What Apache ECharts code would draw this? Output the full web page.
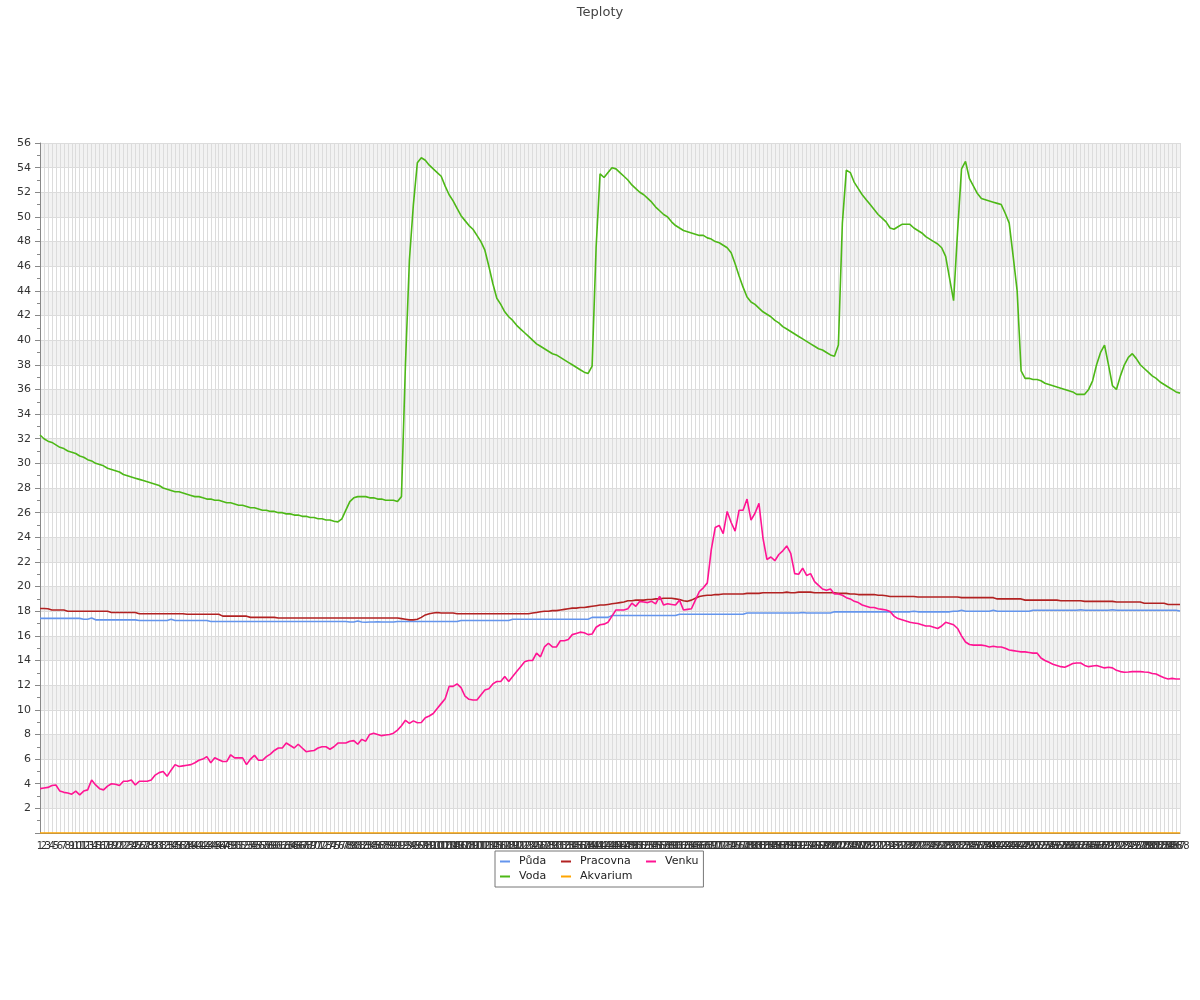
<!DOCTYPE html>
<html><head><meta charset="utf-8">
<script src="https://cdn.jsdelivr.net/npm/echarts/dist/echarts.min.js"></script>
<style>html,body{margin:0;padding:0;background:#fff}#c{width:1200px;height:1000px}</style>
</head><body><div id="c"></div>
<script>
const categories = [
1,2,3,4,5,6,7,8,9,10,11,12,13,14,15,16,17,18,19,20,
21,22,23,24,25,26,27,28,29,30,31,32,33,34,35,36,37,38,39,40,
41,42,43,44,45,46,47,48,49,50,51,52,53,54,55,56,57,58,59,60,
61,62,63,64,65,66,67,68,69,70,71,72,73,74,75,76,77,78,79,80,
81,82,83,84,85,86,87,88,89,90,91,92,93,94,95,96,97,98,99,100,
101,102,103,104,105,106,107,108,109,110,111,112,113,114,115,116,117,118,119,120,
121,122,123,124,125,126,127,128,129,130,131,132,133,134,135,136,137,138,139,140,
141,142,143,144,145,146,147,148,149,150,151,152,153,154,155,156,157,158,159,160,
161,162,163,164,165,166,167,168,169,170,171,172,173,174,175,176,177,178,179,180,
181,182,183,184,185,186,187,188,189,190,191,192,193,194,195,196,197,198,199,200,
201,202,203,204,205,206,207,208,209,210,211,212,213,214,215,216,217,218,219,220,
221,222,223,224,225,226,227,228,229,230,231,232,233,234,235,236,237,238,239,240,
241,242,243,244,245,246,247,248,249,250,251,252,253,254,255,256,257,258,259,260,
261,262,263,264,265,266,267,268,269,270,271,272,273,274,275,276,277,278,279,280,
281,282,283,284,285,286,287,288
].map(String);

const puda = [
17.42,17.42,17.42,17.42,17.42,17.42,17.42,17.42,17.42,17.42,
17.42,17.35,17.35,17.45,17.3,17.3,17.3,17.3,17.3,17.3,
17.3,17.3,17.3,17.3,17.3,17.25,17.25,17.25,17.25,17.25,
17.25,17.25,17.25,17.35,17.25,17.25,17.25,17.25,17.25,17.25,
17.25,17.25,17.25,17.17,17.17,17.17,17.17,17.17,17.17,17.17,
17.17,17.17,17.17,17.17,17.17,17.17,17.17,17.17,17.17,17.17,
17.17,17.17,17.17,17.17,17.17,17.17,17.17,17.17,17.17,17.17,
17.17,17.17,17.17,17.17,17.17,17.17,17.17,17.17,17.12,17.12,
17.2,17.12,17.1,17.12,17.12,17.15,17.12,17.12,17.12,17.12,
17.17,17.17,17.17,17.17,17.17,17.17,17.17,17.17,17.17,17.17,
17.17,17.17,17.17,17.17,17.17,17.17,17.25,17.25,17.25,17.25,
17.25,17.25,17.25,17.25,17.25,17.25,17.25,17.25,17.25,17.35,
17.35,17.35,17.35,17.35,17.35,17.35,17.35,17.35,17.35,17.35,
17.35,17.35,17.35,17.35,17.35,17.35,17.35,17.35,17.35,17.5,
17.5,17.5,17.5,17.5,17.65,17.65,17.65,17.65,17.65,17.65,
17.65,17.65,17.65,17.65,17.65,17.65,17.65,17.65,17.65,17.65,
17.65,17.75,17.75,17.75,17.75,17.75,17.75,17.75,17.75,17.75,
17.75,17.75,17.75,17.75,17.75,17.75,17.75,17.75,17.85,17.85,
17.85,17.85,17.85,17.85,17.85,17.85,17.85,17.85,17.85,17.85,
17.85,17.85,17.9,17.85,17.85,17.85,17.85,17.85,17.85,17.85,
17.95,17.95,17.95,17.95,17.95,17.95,17.95,17.95,17.95,17.95,
17.95,17.95,17.95,17.95,17.95,17.95,17.95,17.95,17.95,17.95,
18.0,17.95,17.95,17.95,17.95,17.95,17.95,17.95,17.95,17.95,
18.0,18.0,18.08,18.0,18.0,18.0,18.0,18.0,18.0,18.0,
18.08,18.0,18.0,18.0,18.0,18.0,18.0,18.0,18.0,18.0,
18.08,18.08,18.08,18.08,18.08,18.08,18.08,18.08,18.08,18.08,
18.08,18.08,18.12,18.08,18.08,18.08,18.08,18.08,18.08,18.08,
18.12,18.08,18.08,18.08,18.08,18.08,18.08,18.08,18.08,18.08,
18.08,18.08,18.08,18.08,18.08,18.08,18.08,18.02
];

const pracovna = [
18.22,18.22,18.2,18.1,18.1,18.1,18.1,18.0,18.0,18.0,
18.0,18.0,18.0,18.0,18.0,18.0,18.0,18.0,17.9,17.9,
17.9,17.9,17.9,17.9,17.9,17.8,17.8,17.8,17.8,17.8,
17.8,17.8,17.8,17.8,17.8,17.8,17.8,17.75,17.75,17.75,
17.75,17.75,17.75,17.75,17.75,17.75,17.6,17.6,17.6,17.6,
17.6,17.6,17.6,17.5,17.5,17.5,17.5,17.5,17.5,17.5,
17.45,17.45,17.45,17.45,17.45,17.45,17.45,17.45,17.45,17.45,
17.45,17.45,17.45,17.45,17.45,17.45,17.45,17.45,17.45,17.45,
17.45,17.45,17.45,17.45,17.45,17.45,17.45,17.45,17.45,17.45,
17.45,17.4,17.35,17.3,17.3,17.35,17.5,17.7,17.8,17.85,
17.9,17.85,17.85,17.85,17.85,17.8,17.8,17.8,17.8,17.8,
17.8,17.8,17.8,17.8,17.8,17.8,17.8,17.8,17.8,17.8,
17.8,17.8,17.8,17.8,17.85,17.9,17.95,18.0,18.0,18.05,
18.05,18.1,18.15,18.2,18.25,18.25,18.3,18.3,18.35,18.4,
18.45,18.5,18.5,18.55,18.6,18.65,18.7,18.75,18.85,18.85,
18.9,18.9,18.9,18.95,18.95,19.0,19.0,19.05,19.05,19.05,
19.0,18.95,18.85,18.8,18.9,19.05,19.2,19.25,19.3,19.3,
19.35,19.35,19.4,19.4,19.4,19.4,19.4,19.4,19.45,19.45,
19.45,19.45,19.5,19.5,19.5,19.5,19.5,19.5,19.55,19.5,
19.5,19.55,19.55,19.55,19.55,19.5,19.5,19.5,19.5,19.5,
19.5,19.45,19.45,19.45,19.4,19.4,19.35,19.35,19.35,19.35,
19.35,19.3,19.3,19.25,19.2,19.2,19.2,19.2,19.2,19.2,
19.2,19.15,19.15,19.15,19.15,19.15,19.15,19.15,19.15,19.15,
19.15,19.15,19.1,19.1,19.1,19.1,19.1,19.1,19.1,19.1,
19.1,19.0,19.0,19.0,19.0,19.0,19.0,19.0,18.9,18.9,
18.9,18.9,18.9,18.9,18.9,18.9,18.9,18.85,18.85,18.85,
18.85,18.85,18.85,18.8,18.8,18.8,18.8,18.8,18.8,18.8,
18.8,18.75,18.75,18.75,18.75,18.75,18.75,18.75,18.65,18.65,
18.65,18.65,18.65,18.65,18.55,18.55,18.55,18.55
];

const venku = [
3.6,3.65,3.7,3.85,3.9,3.4,3.3,3.25,3.15,3.4,
3.1,3.4,3.5,4.3,3.9,3.6,3.5,3.8,4.0,3.95,
3.85,4.2,4.2,4.3,3.9,4.2,4.2,4.2,4.3,4.7,
4.9,5.0,4.6,5.1,5.55,5.4,5.45,5.5,5.55,5.7,
5.9,6.0,6.2,5.7,6.1,5.95,5.8,5.8,6.35,6.1,
6.1,6.1,5.55,6.0,6.3,5.9,5.9,6.2,6.4,6.7,
6.9,6.9,7.3,7.1,6.9,7.2,6.9,6.6,6.65,6.7,
6.9,7.0,7.0,6.8,7.0,7.3,7.3,7.3,7.45,7.5,
7.2,7.6,7.45,8.0,8.1,8.0,7.9,7.95,8.0,8.1,
8.35,8.7,9.15,8.9,9.1,8.95,8.97,9.35,9.5,9.7,
10.1,10.5,10.9,11.9,11.9,12.1,11.8,11.1,10.85,10.8,
10.8,11.2,11.6,11.7,12.1,12.3,12.3,12.7,12.3,12.7,
13.1,13.5,13.9,14.0,14.0,14.6,14.3,15.1,15.4,15.1,
15.1,15.6,15.6,15.7,16.1,16.2,16.3,16.25,16.1,16.15,
16.7,16.9,16.95,17.1,17.6,18.1,18.1,18.1,18.2,18.65,
18.4,18.8,18.75,18.7,18.8,18.6,19.2,18.5,18.6,18.55,
18.5,18.9,18.1,18.15,18.2,18.9,19.6,19.9,20.3,23.0,
24.8,24.97,24.3,26.1,25.2,24.5,26.2,26.2,27.1,25.4,
25.95,26.75,23.96,22.2,22.4,22.1,22.6,22.9,23.3,22.7,
21.05,21.0,21.5,20.9,21.05,20.4,20.1,19.8,19.7,19.8,
19.4,19.4,19.3,19.1,19.0,18.8,18.7,18.5,18.4,18.3,
18.3,18.2,18.15,18.1,17.97,17.6,17.4,17.3,17.2,17.1,
17.05,17.0,16.9,16.8,16.8,16.7,16.6,16.8,17.1,17.0,
16.9,16.6,16.0,15.5,15.3,15.25,15.25,15.25,15.2,15.1,
15.15,15.1,15.1,15.0,14.85,14.8,14.75,14.7,14.7,14.65,
14.6,14.6,14.2,14.0,13.85,13.7,13.6,13.5,13.45,13.6,
13.75,13.8,13.8,13.6,13.5,13.55,13.6,13.5,13.4,13.45,
13.4,13.2,13.1,13.05,13.07,13.1,13.1,13.1,13.07,13.05,
12.95,12.9,12.75,12.6,12.5,12.55,12.5,12.5
];

const voda = [
32.3,32.0,31.8,31.7,31.5,31.3,31.2,31.0,30.9,30.8,
30.6,30.5,30.3,30.2,30.0,29.9,29.8,29.6,29.5,29.4,
29.3,29.1,29.0,28.9,28.8,28.7,28.6,28.5,28.4,28.3,
28.2,28.0,27.9,27.8,27.7,27.7,27.6,27.5,27.4,27.3,
27.3,27.2,27.1,27.1,27.0,27.0,26.9,26.8,26.8,26.7,
26.6,26.6,26.5,26.4,26.4,26.3,26.2,26.2,26.1,26.1,
26.0,26.0,25.9,25.9,25.8,25.8,25.7,25.7,25.6,25.6,
25.5,25.5,25.4,25.4,25.3,25.25,25.5,26.2,26.9,27.2,
27.3,27.3,27.3,27.2,27.2,27.1,27.1,27.0,27.0,27.0,
26.9,27.3,38.0,46.5,51.0,54.4,54.8,54.6,54.2,53.9,
53.6,53.3,52.5,51.8,51.3,50.7,50.1,49.7,49.3,49.0,
48.5,48.0,47.3,46.0,44.6,43.4,42.9,42.3,41.9,41.6,
41.2,40.9,40.6,40.3,40.0,39.7,39.5,39.3,39.1,38.9,
38.8,38.6,38.4,38.2,38.0,37.8,37.6,37.4,37.3,37.9,
47.5,53.5,53.2,53.6,54.0,53.9,53.6,53.3,53.0,52.6,
52.3,52.0,51.8,51.5,51.2,50.8,50.5,50.2,50.0,49.6,
49.3,49.1,48.9,48.8,48.7,48.6,48.5,48.5,48.3,48.2,
48.0,47.9,47.7,47.5,47.1,46.2,45.2,44.3,43.5,43.1,
42.9,42.6,42.3,42.1,41.9,41.6,41.4,41.1,40.9,40.7,
40.5,40.3,40.1,39.9,39.7,39.5,39.3,39.2,39.0,38.8,
38.7,39.6,49.5,53.8,53.6,52.8,52.3,51.8,51.4,51.0,
50.6,50.2,49.9,49.6,49.1,49.0,49.2,49.4,49.4,49.4,
49.1,48.9,48.7,48.4,48.2,48.0,47.8,47.5,46.8,45.0,
43.2,48.8,53.9,54.5,53.1,52.5,51.9,51.5,51.4,51.3,
51.2,51.1,51.0,50.3,49.5,46.8,44.0,37.5,36.9,36.9,
36.8,36.8,36.7,36.5,36.4,36.3,36.2,36.1,36.0,35.9,
35.8,35.6,35.6,35.6,36.0,36.7,38.0,39.0,39.6,38.0,
36.3,36.0,37.1,38.0,38.6,38.9,38.5,38.0,37.7,37.4,
37.1,36.9,36.6,36.4,36.2,36.0,35.8,35.7
];

const akvarium = [
0,0,0,0,0,0,0,0,0,0,0,0,0,0,0,0,0,0,0,0,0,0,0,0,
0,0,0,0,0,0,0,0,0,0,0,0,0,0,0,0,0,0,0,0,0,0,0,0,
0,0,0,0,0,0,0,0,0,0,0,0,0,0,0,0,0,0,0,0,0,0,0,0,
0,0,0,0,0,0,0,0,0,0,0,0,0,0,0,0,0,0,0,0,0,0,0,0,
0,0,0,0,0,0,0,0,0,0,0,0,0,0,0,0,0,0,0,0,0,0,0,0,
0,0,0,0,0,0,0,0,0,0,0,0,0,0,0,0,0,0,0,0,0,0,0,0,
0,0,0,0,0,0,0,0,0,0,0,0,0,0,0,0,0,0,0,0,0,0,0,0,
0,0,0,0,0,0,0,0,0,0,0,0,0,0,0,0,0,0,0,0,0,0,0,0,
0,0,0,0,0,0,0,0,0,0,0,0,0,0,0,0,0,0,0,0,0,0,0,0,
0,0,0,0,0,0,0,0,0,0,0,0,0,0,0,0,0,0,0,0,0,0,0,0,
0,0,0,0,0,0,0,0,0,0,0,0,0,0,0,0,0,0,0,0,0,0,0,0,
0,0,0,0,0,0,0,0,0,0,0,0,0,0,0,0,0,0,0,0,0,0,0,0
];

const names = ['Půda', 'Pracovna', 'Venku', 'Voda', 'Akvarium'];
const colors = ['#6495ED', '#B22222', '#FF1493', '#4DB817', '#FFA500'];
const values = [puda, pracovna, venku, voda, akvarium];

const font = '"DejaVu Sans", sans-serif';
const chart = echarts.init(document.getElementById('c'), null, {renderer: 'canvas'});
chart.setOption({
  animation: false,
  backgroundColor: '#fff',
  textStyle: {fontFamily: font},
  title: {
    text: 'Teploty', left: 'center', top: 1,
    textStyle: {fontSize: 13, fontWeight: 'normal', color: '#444', fontFamily: font}
  },
  legend: {
    left: 495, top: 851, width: 215,
    orient: 'horizontal',
    padding: 5, itemGap: 4, itemWidth: 10, itemHeight: 2,
    icon: 'rect',
    borderColor: '#777', borderWidth: 1,
    textStyle: {fontSize: 11, lineHeight: 11, color: '#222', fontFamily: font, padding: [0, 0, 0, 4]},
    data: [
      {name: names[0], textStyle: {width: 38}},
      {name: names[1], textStyle: {width: 62}},
      {name: names[2], textStyle: {width: 32}},
      {name: names[3], textStyle: {width: 38}},
      {name: names[4], textStyle: {width: 62}}
    ]
  },
  grid: {left: 40, right: 20, top: 143, bottom: 167, containLabel: false},
  xAxis: {
    type: 'category', data: categories, boundaryGap: false,
    axisLine: {show: true, lineStyle: {color: '#888'}},
    axisTick: {show: false},
    axisLabel: {interval: 0, fontSize: 10, color: '#333', margin: 8, hideOverlap: false, fontFamily: font},
    splitLine: {show: true, interval: 0, lineStyle: {color: '#dcdcdc', width: 1}}
  },
  yAxis: {
    type: 'value', min: 0, max: 56, interval: 2,
    axisLine: {show: true, lineStyle: {color: '#888'}},
    axisTick: {show: true, length: 5, lineStyle: {color: '#888'}},
    minorTick: {show: true, splitNumber: 2, length: 3, lineStyle: {color: '#888'}},
    axisLabel: {showMinLabel: false, fontSize: 11, color: '#333', margin: 9, fontFamily: font},
    splitLine: {show: true, lineStyle: {color: '#dcdcdc'}},
    splitArea: {show: true, areaStyle: {color: ['#ffffff', '#f2f2f2']}}
  },
  series: names.map((n, k) => ({
    name: n, type: 'line', data: values[k],
    showSymbol: false, symbol: 'none',
    color: colors[k],
    lineStyle: {width: 1.6, color: colors[k]},
    emphasis: {disabled: true}
  }))
});
</script>
</body></html>
